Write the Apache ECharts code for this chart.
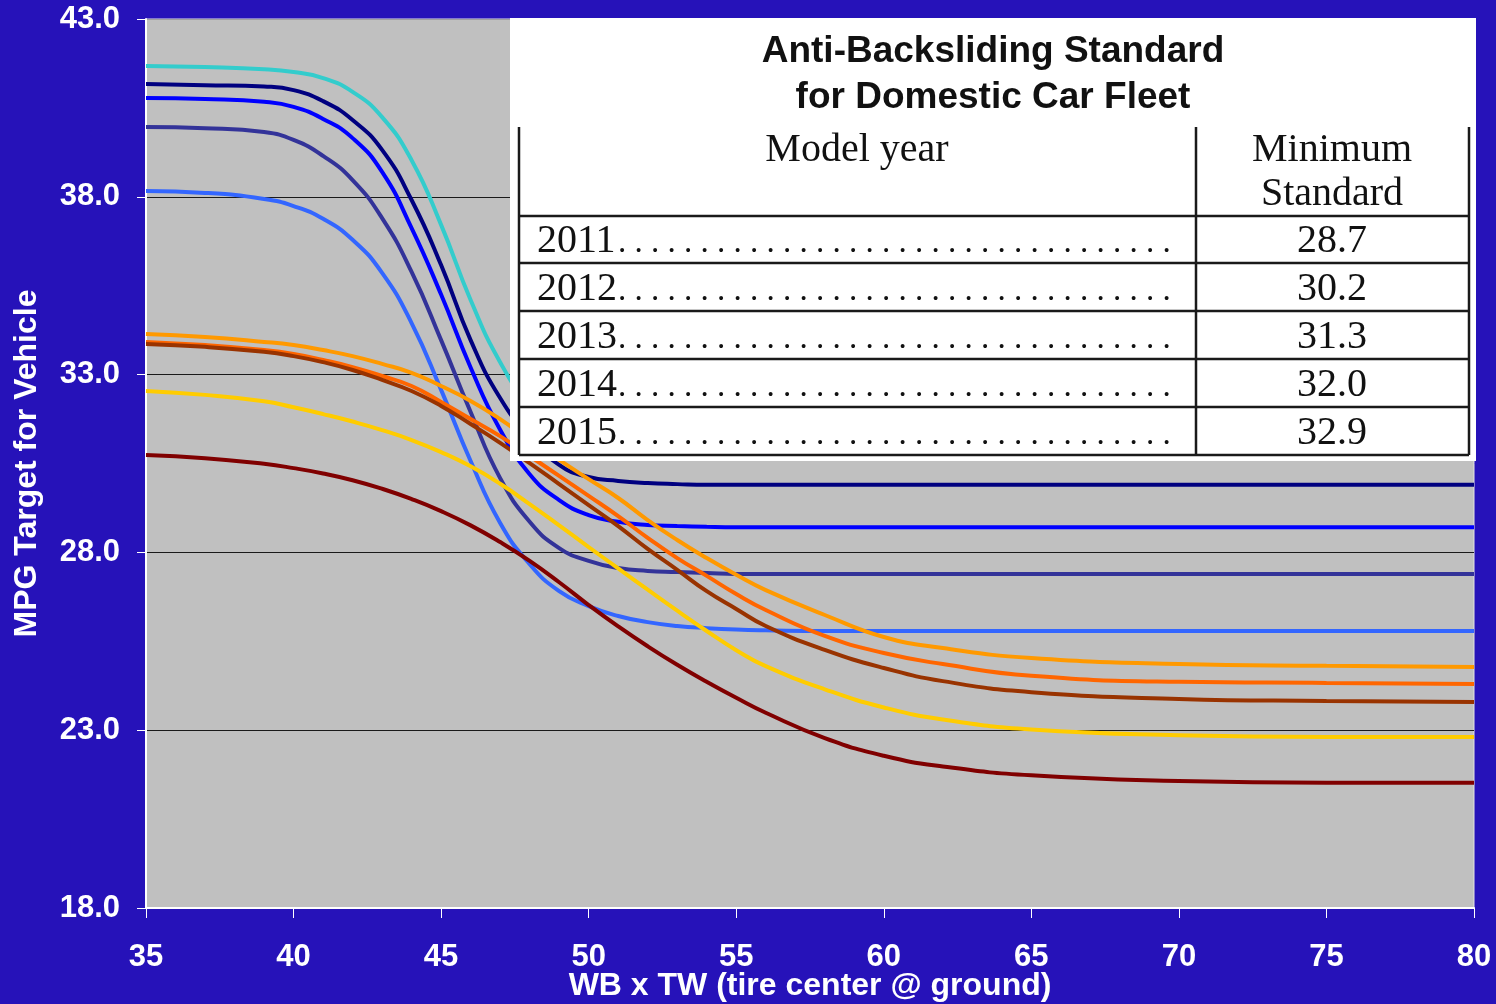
<!DOCTYPE html>
<html>
<head>
<meta charset="utf-8">
<title>MPG Target for Vehicle</title>
<script src="https://cdn.jsdelivr.net/npm/echarts@6/dist/echarts.min.js"></script>
<style>
  html, body { margin: 0; padding: 0; background: #2612b9; }
  #chart { width: 1496px; height: 1004px; }
</style>
</head>
<body>
<div id="chart"></div>
<script>
// Footprint (WB x TW) sample positions shared by every curve
const footprint = [35, 37, 39, 40, 41, 42, 43, 44, 45, 46, 47, 48, 49, 50, 51, 52, 53, 54, 55, 56, 58, 60, 62, 65, 70, 75, 80];

// MPG target curves
const cyanCurve   = [41.68, 41.65, 41.59, 41.51, 41.34, 40.95, 40.24, 39.03, 37.21, 35.10, 33.35, 32.15, 31.50, 31.15, 31.00, 30.95, 30.92, 30.91, 30.90, 30.90, 30.90, 30.90, 30.90, 30.90, 30.90, 30.90, 30.90];
const navyCurve   = [41.17, 41.14, 41.10, 41.00, 40.69, 40.16, 39.32, 37.91, 36.08, 33.97, 32.34, 31.25, 30.46, 30.12, 30.01, 29.95, 29.92, 29.90, 29.90, 29.90, 29.90, 29.90, 29.90, 29.90, 29.90, 29.90, 29.90];
const blueCurve   = [40.78, 40.75, 40.67, 40.53, 40.19, 39.65, 38.70, 37.12, 35.25, 33.20, 31.45, 30.20, 29.47, 29.05, 28.86, 28.77, 28.74, 28.72, 28.71, 28.71, 28.71, 28.71, 28.71, 28.71, 28.71, 28.71, 28.71];
const slateCurve  = [39.96, 39.93, 39.82, 39.60, 39.15, 38.47, 37.40, 35.89, 33.97, 31.95, 30.09, 28.86, 28.12, 27.76, 27.56, 27.48, 27.45, 27.42, 27.39, 27.39, 27.39, 27.39, 27.39, 27.39, 27.39, 27.39, 27.39];
const skyCurve    = [38.16, 38.11, 37.94, 37.74, 37.38, 36.79, 35.86, 34.45, 32.57, 30.57, 28.83, 27.67, 26.91, 26.49, 26.21, 26.04, 25.93, 25.87, 25.83, 25.81, 25.79, 25.79, 25.79, 25.79, 25.79, 25.79, 25.79];
const orangeCurve = [34.14, 34.06, 33.92, 33.83, 33.69, 33.52, 33.30, 33.05, 32.68, 32.26, 31.75, 31.16, 30.60, 30.06, 29.53, 28.91, 28.35, 27.84, 27.37, 26.94, 26.24, 25.62, 25.31, 25.03, 24.86, 24.81, 24.78];
const redOrangeCurve = [33.92, 33.83, 33.69, 33.58, 33.41, 33.21, 32.96, 32.68, 32.23, 31.75, 31.27, 30.71, 30.15, 29.59, 29.02, 28.41, 27.84, 27.34, 26.83, 26.38, 25.65, 25.17, 24.86, 24.53, 24.36, 24.33, 24.30];
const brownCurve  = [33.86, 33.78, 33.64, 33.52, 33.35, 33.13, 32.85, 32.54, 32.12, 31.61, 31.08, 30.51, 29.92, 29.33, 28.74, 28.10, 27.51, 26.91, 26.41, 25.93, 25.26, 24.75, 24.38, 24.07, 23.88, 23.82, 23.79];
const goldCurve   = [32.54, 32.43, 32.25, 32.08, 31.89, 31.68, 31.44, 31.16, 30.82, 30.42, 29.93, 29.36, 28.76, 28.15, 27.55, 26.95, 26.36, 25.79, 25.25, 24.80, 24.15, 23.64, 23.30, 23.02, 22.86, 22.81, 22.81];
const maroonCurve = [30.74, 30.65, 30.49, 30.37, 30.22, 30.03, 29.79, 29.50, 29.16, 28.76, 28.29, 27.76, 27.16, 26.52, 25.92, 25.36, 24.84, 24.36, 23.91, 23.49, 22.78, 22.28, 21.98, 21.73, 21.57, 21.52, 21.52];

// Inset table contents
const tableTitle = ['Anti-Backsliding Standard', 'for Domestic Car Fleet'];
const tableHeaders = ['Model year', 'Minimum', 'Standard'];
const modelYears = ['2011', '2012', '2013', '2014', '2015'];
const minStandards = ['28.7', '30.2', '31.3', '32.0', '32.9'];

const SANS = "'Liberation Sans', Arial, Helvetica, sans-serif";
const SERIF = "'Liberation Serif', 'Times New Roman', serif";

const curves = [
  { name: 'Cyan', data: cyanCurve, color: '#33cccc' },
  { name: 'Navy', data: navyCurve, color: '#000080' },
  { name: 'Blue', data: blueCurve, color: '#0000ff' },
  { name: 'Slate', data: slateCurve, color: '#333399' },
  { name: 'Sky', data: skyCurve, color: '#3366ff' },
  { name: 'Orange', data: orangeCurve, color: '#ff9900' },
  { name: 'Red orange', data: redOrangeCurve, color: '#ff6600' },
  { name: 'Brown', data: brownCurve, color: '#993300' },
  { name: 'Gold', data: goldCurve, color: '#ffcc00' },
  { name: 'Maroon', data: maroonCurve, color: '#800000' }
];

const series = curves.map(c => ({
  type: 'line',
  name: c.name,
  data: footprint.map((x, i) => [x, c.data[i]]),
  smooth: 0.5,
  showSymbol: false,
  symbol: 'none',
  lineStyle: { color: c.color, width: 4 },
  itemStyle: { color: c.color },
  z: 2
}));

// Inset table drawn on top of the plot
function buildTable() {
  const els = [];
  const Z = 100;
  const box = { x1: 510, y1: 18, x2: 1476, y2: 461 };
  els.push({ type: 'rect', z: Z, shape: { x: box.x1, y: box.y1, width: box.x2 - box.x1, height: box.y2 - box.y1 }, style: { fill: '#ffffff' } });

  const text = (t, x, y, font, align) => ({
    type: 'text', z: Z + 2, x: x, y: y,
    style: { text: t, font: font, fill: '#111111', align: align, textAlign: align, verticalAlign: 'middle', textVerticalAlign: 'middle' }
  });

  const titleFont = 'bold 37px ' + SANS;
  els.push(text(tableTitle[0], 993, 52, titleFont, 'center'));
  els.push(text(tableTitle[1], 993, 98, titleFont, 'center'));

  const left = 519, mid = 1196, right = 1469, top = 127;
  const rowLines = [216, 263, 311, 359, 407, 455];
  const lineStyle = { stroke: '#1a1a1a', lineWidth: 2.5 };
  [left, mid, right].forEach(x => {
    els.push({ type: 'line', z: Z + 1, shape: { x1: x, y1: top, x2: x, y2: rowLines[rowLines.length - 1] }, style: lineStyle });
  });
  rowLines.forEach(y => {
    els.push({ type: 'line', z: Z + 1, shape: { x1: left, y1: y, x2: right, y2: y }, style: lineStyle });
  });

  const cellFont = '40px ' + SERIF;
  els.push(text(tableHeaders[0], 857, 150, cellFont, 'center'));
  els.push(text(tableHeaders[1], 1332, 150, cellFont, 'center'));
  els.push(text(tableHeaders[2], 1332, 194, cellFont, 'center'));

  const leader = '. '.repeat(34);
  modelYears.forEach((yr, i) => {
    const cy = (rowLines[i] + rowLines[i + 1]) / 2 + 2;
    els.push(text(yr, 537, cy, cellFont, 'left'));
    els.push(text(leader, 618, cy + 2, '33px ' + SERIF, 'left'));
    els.push(text(minStandards[i], 1332, cy, cellFont, 'center'));
  });
  return els;
}

const chart = echarts.init(document.getElementById('chart'), null, { renderer: 'canvas' });
chart.setOption({
  backgroundColor: '#2612b9',
  animation: false,
  grid: {
    left: 146, right: 22, top: 19, bottom: 96,
    show: true, backgroundColor: '#c0c0c0', borderColor: '#e4e4e4', borderWidth: 1,
    outerBoundsMode: 'none'
  },
  xAxis: {
    type: 'value', min: 35, max: 80, interval: 5,
    name: 'WB x TW (tire center @ ground)',
    nameLocation: 'middle', nameGap: 62, nameMoveOverlap: false,
    nameTextStyle: { color: '#ffffff', fontSize: 32, fontWeight: 'bold', fontFamily: SANS },
    axisLine: { show: true, lineStyle: { color: '#ffffff', width: 2 } },
    axisTick: { show: true, length: 10, lineStyle: { color: '#ffffff', width: 1 } },
    axisLabel: { color: '#ffffff', fontSize: 31, fontWeight: 'bold', fontFamily: SANS, margin: 34 },
    splitLine: { show: false }
  },
  yAxis: {
    type: 'value', min: 18, max: 43, interval: 5,
    name: 'MPG Target for Vehicle',
    nameLocation: 'middle', nameGap: 103, nameRotate: 90, nameMoveOverlap: false,
    nameTextStyle: { color: '#ffffff', fontSize: 32, fontWeight: 'bold', fontFamily: SANS },
    axisLine: { show: true, lineStyle: { color: '#ffffff', width: 2 } },
    axisTick: { show: true, length: 9, lineStyle: { color: '#ffffff', width: 1 } },
    axisLabel: { color: '#ffffff', fontSize: 31, fontWeight: 'bold', fontFamily: SANS, margin: 26, formatter: v => v.toFixed(1) },
    splitLine: { show: true, lineStyle: { color: ['#ffffff', '#1a1a1a', '#1a1a1a', '#1a1a1a', '#1a1a1a', '#a0a0a0'], width: 1 } }
  },
  series: series,
  graphic: { elements: buildTable() }
});
</script>
</body>
</html>
